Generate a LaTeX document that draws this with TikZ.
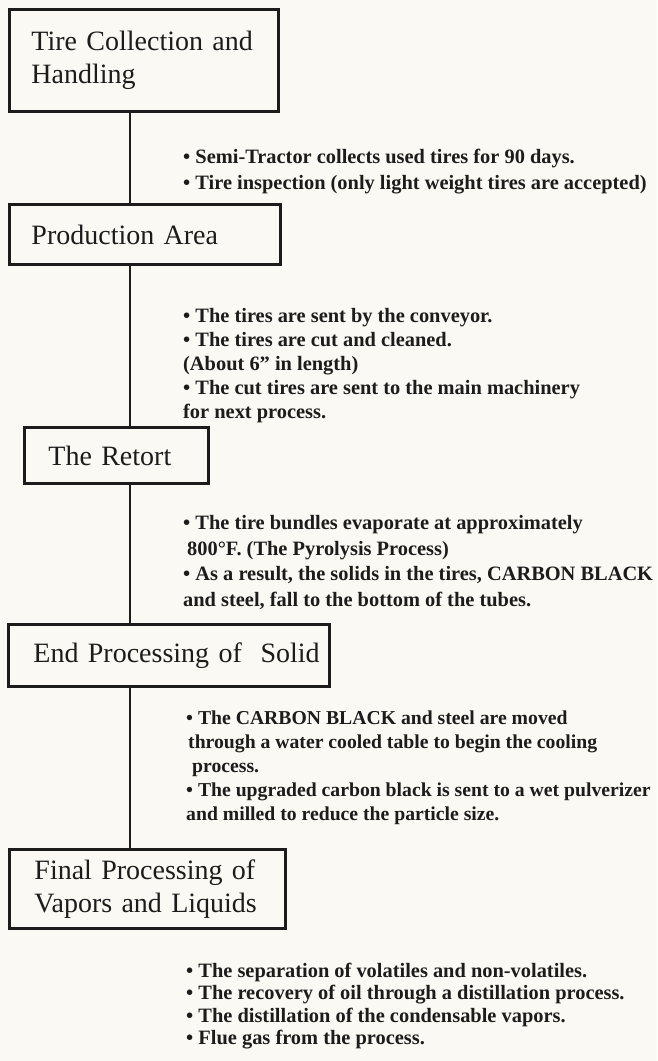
\documentclass[tikz,border=0pt]{standalone}
\usepackage{fontspec}
\setmainfont{Liberation Serif}
\usepackage{tikz}
\definecolor{paper}{HTML}{FAF9F4}
\definecolor{ink}{HTML}{1C1C1C}
\tikzset{
  box/.style={draw=ink,line width=2.9pt,anchor=north west,align=left,inner ysep=0pt,text=ink,font=\fontsize{28}{33}\selectfont},
  note/.style={anchor=north west,align=left,inner sep=0pt,text=ink,font=\bfseries\fontsize{20.4}{25}\selectfont},
  link/.style={draw=ink,line width=2.9pt}}

\begin{document}
\begin{tikzpicture}[x=1pt,y=-1pt]
\fill[paper] (0,0) rectangle (657,1061);
\useasboundingbox (0,0) rectangle (657,1061);
\coordinate (spine) at (130,0);
% process steps
\node[box,minimum width=269pt,minimum height=102pt,inner xsep=22pt,text width=225pt] (tc) at (8,8) {Tire Collection and\\Handling};
\node[box,minimum width=271pt,minimum height=60pt,inner xsep=22pt,text width=227pt] (pa) at (8,203) {Production Area};
\node[box,minimum width=184pt,minimum height=56pt,inner xsep=24pt,text width=136pt] (rt) at (23,426) {The Retort};
\node[box,minimum width=321pt,minimum height=62pt,inner xsep=25pt,text width=271pt] (ep) at (7,623) {\mbox{End Processing of\ \ Solid}};
\node[box,minimum width=276pt,minimum height=79pt,inner xsep=25pt,text width=226pt] (fp) at (8,848) {\mbox{Final Processing of}\\\mbox{Vapors and Liquids}};
\draw[link] (tc.south -| spine) -- (pa.north -| spine);
\draw[link] (pa.south -| spine) -- (rt.north -| spine);
\draw[link] (rt.south -| spine) -- (ep.north -| spine);
\draw[link] (ep.south -| spine) -- (fp.north -| spine);
% notes beside the spine
\node[note,font=\bfseries\fontsize{20.4}{26}\selectfont] (n1) at (183,149) {\textbullet\ Semi-Tractor collects used tires for 90 days.\\\textbullet\ Tire inspection (only light weight tires are accepted)};
\node[note,font=\bfseries\fontsize{20.4}{24}\selectfont] (n2) at (183,308) {\textbullet\ The tires are sent by the conveyor.\\\textbullet\ The tires are cut and cleaned.\\(About 6” in length)\\\textbullet\ The cut tires are sent to the main machinery\\for next process.};
\node[note,font=\bfseries\fontsize{20.4}{25.7}\selectfont] (n3) at (183,515) {\textbullet\ The tire bundles evaporate at approximately\\\hspace*{4pt}800°F. (The Pyrolysis Process)\\\textbullet\ As a result, the solids in the tires, CARBON BLACK\\and steel, fall to the bottom of the tubes.};
\node[note,font=\bfseries\fontsize{19.7}{24}\selectfont] (n4) at (186,711) {\textbullet\ The CARBON BLACK and steel are moved\\\hspace*{2pt}through a water cooled table to begin the cooling\\\hspace*{6pt}process.\\\textbullet\ The upgraded carbon black is sent to a wet pulverizer\\and milled to reduce the particle size.};
\node[note,font=\bfseries\fontsize{20.4}{22.3}\selectfont] (n5) at (186,963) {\textbullet\ The separation of volatiles and non-volatiles.\\\textbullet\ The recovery of oil through a distillation process.\\\textbullet\ The distillation of the condensable vapors.\\\textbullet\ Flue gas from the process.};
\end{tikzpicture}
\end{document}
